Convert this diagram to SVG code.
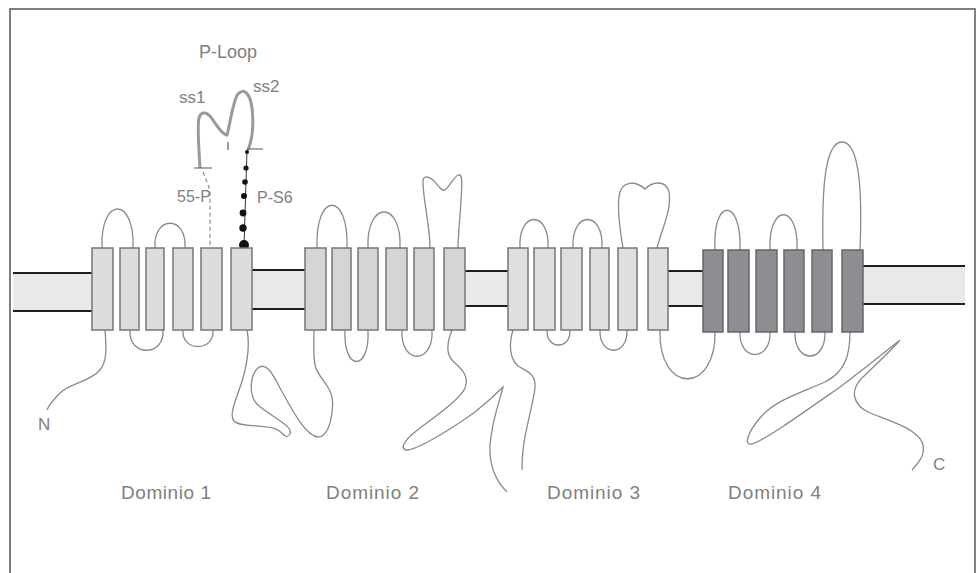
<svg xmlns="http://www.w3.org/2000/svg" width="979" height="573" viewBox="0 0 979 573">
  <style>
    .band { fill: #e9e9eb; stroke: none; }
    .edge { stroke: #1e1e1e; stroke-width: 2; fill: none; }
    .seg { stroke: #767676; stroke-width: 1.5; }
    .d1 { fill: #dddddf; }
    .d2 { fill: #d5d5d7; }
    .d3 { fill: #dfdfe1; }
    .d4 { fill: #8e8e92; stroke: #66666a; }
    .chain { fill: none; stroke: #8a8a8a; stroke-width: 1.3; }
    .lbl { font-family: "Liberation Sans", Arial, sans-serif; fill: #808080; }
  </style>
  <rect width="979" height="573" fill="#ffffff"/>
  <!-- frame, open at the bottom -->
  <path d="M10,580 V9 H975 V580" fill="none" stroke="#555" stroke-width="1.5"/>

  <!-- membrane bands between the domains -->
  <g id="membrane">
    <polygon class="band" points="13,273 93,273 93,311 13,311"/>
    <path class="edge" d="M13,273 H93 M13,311 H93"/>
    <polygon class="band" points="252,270 305,270 305,309 252,309"/>
    <path class="edge" d="M252,270 H305 M252,309 H305"/>
    <polygon class="band" points="465,271 508,271 508,306 465,306"/>
    <path class="edge" d="M465,271 H508 M465,306 H508"/>
    <polygon class="band" points="668,271 703,271 703,306 668,306"/>
    <path class="edge" d="M668,271 H703 M668,306 H703"/>
    <polygon class="band" points="863,266 965,266 965,304 863,304"/>
    <path class="edge" d="M863,266 H965 M863,304 H965"/>
  </g>

  <!-- loops and linkers -->
  <g id="connectors">
    <!-- domain 1 -->
    <path class="chain" d="M102,248 C100,196 135,196 133,248"/>
    <path class="chain" d="M155,248 C153,215 187,215 185,248"/>
    <path class="chain" d="M130,330 C128,357 165,357 163,330"/>
    <path class="chain" d="M183,330 C181,352 215,352 213,330"/>
    <path class="chain" d="M105,330 C106,345 108,360 100,370 C90,382 70,383 60,393 C53,400 49,405 47,410"/>
    <path class="chain" d="M247,330 C250,345 248,360 243,378 C238,396 228,414 234,421 C240,428 268,424 278,430 C284,434 286,440 290,434 C294,426 270,416 258,405 C248,396 250,375 258,368 C266,362 272,372 280,388 C290,406 305,436 318,437 C330,437 334,410 332,397 C330,385 318,378 315,365 C313,355 314,340 314,330"/>
    <!-- domain 2 -->
    <path class="chain" d="M317,248 C315,191 349,191 347,248"/>
    <path class="chain" d="M368,248 C366,200 402,200 400,248"/>
    <path class="chain" d="M430,248 C430,225 423,200 423,182 C423,175 428,176 433,180 C438,185 442,192 445,190 C450,186 454,177 458,175 C463,173 462,185 461,200 C460,220 458,235 458,248"/>
    <path class="chain" d="M345,330 C343,372 370,372 368,330"/>
    <path class="chain" d="M402,330 C400,365 434,365 432,330"/>
    <path class="chain" d="M452,330 C448,340 445,352 452,360 C460,368 470,375 465,388 C460,400 430,420 415,432 C405,440 398,450 408,450 C420,448 450,430 475,412 C490,400 500,390 503,387 C500,400 492,420 490,445 C489,465 495,480 507,492"/>
    <!-- domain 3 -->
    <path class="chain" d="M520,248 C518,210 550,210 548,248"/>
    <path class="chain" d="M573,248 C571,210 604,210 602,248"/>
    <path class="chain" d="M623,248 C620,230 616,205 620,192 C623,182 635,180 645,189 C653,181 666,180 669,192 C672,210 662,228 657,248"/>
    <path class="chain" d="M547,330 C546,350 571,350 570,330"/>
    <path class="chain" d="M600,330 C599,357 628,357 627,330"/>
    <path class="chain" d="M513,330 C509,343 509,358 518,366 C528,372 536,374 535,388 C533,405 525,430 523,450 C522,460 522,465 522,470"/>
    <path class="chain" d="M660,330 C658,395 717,395 715,330"/>
    <!-- domain 4 -->
    <path class="chain" d="M715,250 C712,197 742,197 740,250"/>
    <path class="chain" d="M770,250 C768,203 799,203 797,250"/>
    <path class="chain" d="M823,250 C822,200 823,142 842,142 C861,142 862,200 860,250"/>
    <path class="chain" d="M740,332 C739,362 771,362 770,332"/>
    <path class="chain" d="M795,332 C794,364 826,364 825,332"/>
    <path class="chain" d="M850,332 C850,355 845,372 825,382 C800,393 775,400 760,418 C748,432 743,446 752,444 C765,440 800,415 840,387 C860,372 885,352 900,340 C890,352 875,365 862,378 C850,390 852,405 870,413 C890,421 915,428 922,442 C927,455 918,463 912,470"/>
  </g>

  <!-- P-loop of the first domain -->
  <g id="ploop">
    <path d="M200,168 C199,150 197,125 199,118 C201,110 208,112 213,120 C218,128 224,135 227,135 C230,125 233,100 238,94 C243,88 250,92 252,108 C254,125 252,140 248,150" fill="none" stroke="#9a9a9a" stroke-width="3"/>
    <path d="M194,168 H212 M247,149 H263 M228,142 V150" stroke="#555" stroke-width="1.2" fill="none"/>
    <path d="M203,172 L210,190 L210,247" stroke="#8a8a8a" stroke-width="1.2" stroke-dasharray="4,3" fill="none"/>
    <path d="M247,150 L244,246" stroke="#333" stroke-width="1" fill="none"/>
    <g fill="#111">
      <circle cx="247" cy="152" r="2"/>
      <circle cx="246" cy="168" r="2.6"/>
      <circle cx="245" cy="182" r="2.8"/>
      <circle cx="244" cy="196" r="3"/>
      <circle cx="243" cy="213" r="3.4"/>
      <circle cx="243" cy="228" r="3.7"/>
      <circle cx="244" cy="245" r="5"/>
    </g>
  </g>

  <!-- segments S1-S6 of each domain -->
  <g id="domain1" class="seg">
    <rect class="d1" x="92" y="248" width="21" height="82"/>
    <rect class="d1" x="120" y="248" width="19" height="82"/>
    <rect class="d1" x="146" y="248" width="18" height="82"/>
    <rect class="d1" x="173" y="248" width="20" height="82"/>
    <rect class="d1" x="201" y="248" width="21" height="82"/>
    <rect class="d1" x="231" y="248" width="21" height="82"/>
  </g>
  <g id="domain2" class="seg">
    <rect class="d2" x="305" y="248" width="21" height="82"/>
    <rect class="d2" x="332" y="248" width="19" height="82"/>
    <rect class="d2" x="358" y="248" width="20" height="82"/>
    <rect class="d2" x="386" y="248" width="21" height="82"/>
    <rect class="d2" x="414" y="248" width="20" height="82"/>
    <rect class="d2" x="444" y="248" width="21" height="82"/>
  </g>
  <g id="domain3" class="seg">
    <rect class="d3" x="508" y="248" width="20" height="82"/>
    <rect class="d3" x="534" y="248" width="21" height="82"/>
    <rect class="d3" x="561" y="248" width="21" height="82"/>
    <rect class="d3" x="590" y="248" width="19" height="82"/>
    <rect class="d3" x="618" y="248" width="19" height="82"/>
    <rect class="d3" x="648" y="248" width="20" height="82"/>
  </g>
  <g id="domain4" class="seg">
    <rect class="d4" x="703" y="250" width="20" height="82"/>
    <rect class="d4" x="728" y="250" width="21" height="82"/>
    <rect class="d4" x="756" y="250" width="21" height="82"/>
    <rect class="d4" x="784" y="250" width="20" height="82"/>
    <rect class="d4" x="812" y="250" width="20" height="82"/>
    <rect class="d4" x="842" y="250" width="21" height="82"/>
  </g>

  <!-- labels -->
  <g id="labels" class="lbl">
    <text x="199" y="58" font-size="18">P-Loop</text>
    <text x="179" y="103" font-size="17">ss1</text>
    <text x="253" y="92" font-size="17">ss2</text>
    <text x="177" y="202" font-size="16">55-P</text>
    <text x="257" y="203" font-size="16">P-S6</text>
    <text x="38" y="430" font-size="17">N</text>
    <text x="933" y="470" font-size="17">C</text>
    <text x="121" y="499" font-size="19" textLength="90">Dominio 1</text>
    <text x="326" y="499" font-size="19" textLength="93">Dominio 2</text>
    <text x="547" y="499" font-size="19" textLength="93">Dominio 3</text>
    <text x="728" y="499" font-size="19" textLength="93">Dominio 4</text>
  </g>
</svg>
